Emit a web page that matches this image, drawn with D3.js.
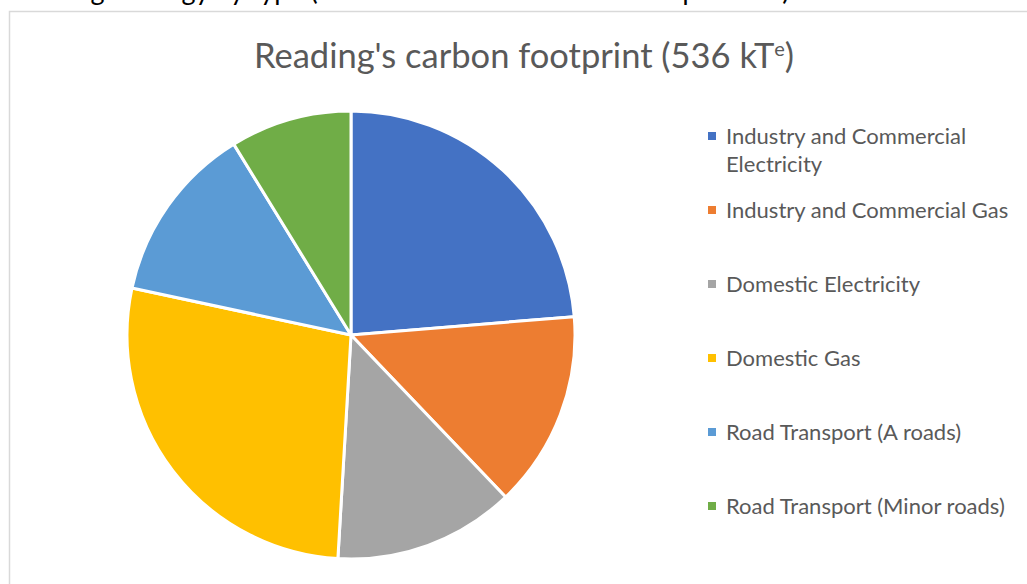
<!DOCTYPE html>
<meta charset="utf-8">
<style>
    body {
        margin: 0;
        background: #fff;
        overflow: hidden;
    }
    text {
        font-family: Lato, "Open Sans", sans-serif;
    }
</style>
<body>
<script src="https://cdn.jsdelivr.net/npm/d3@7"></script>
<script>
    // carbon footprint by source, kT CO2e
    var sources = ["Industry and Commercial Electricity", "Industry and Commercial Gas",
        "Domestic Electricity", "Domestic Gas", "Road Transport (A roads)",
        "Road Transport (Minor roads)"];
    var values = [127, 76, 70, 147, 69, 47];
    var colours = ["#4472C4", "#ED7D31", "#A5A5A5", "#FFC000", "#5B9BD5", "#70AD47"];
    // legend lines (first entry wraps onto two lines)
    var legendLines = [["Industry and Commercial", "Electricity"], ["Industry and Commercial Gas"],
        ["Domestic Electricity"], ["Domestic Gas"], ["Road Transport (A roads)"],
        ["Road Transport (Minor roads)"]];

    var width = 1027,
        height = 584;

    var svg = d3.select("body").append("svg")
        .attr("width", width)
        .attr("height", height);

    // cut-off caption line of the surrounding document
    svg.append("text")
        .attr("x", 10)
        .attr("y", 0)
        .style("font-size", "27px")
        .style("fill", "#000")
        .text("Reading's energy by type (kilotonnes of carbon dioxide equivalent)");

    // chart frame
    svg.append("rect")
        .attr("x", 9.5)
        .attr("y", 11.5)
        .attr("width", width)
        .attr("height", height)
        .style("fill", "#fff")
        .style("stroke", "#d9d9d9")
        .style("stroke-width", 1.5);

    var title = svg.append("text")
        .attr("x", 524)
        .attr("y", 68)
        .attr("text-anchor", "middle")
        .style("font-size", "34.5px")
        .style("fill", "#595959");
    title.append("tspan").text("Reading's carbon footprint (536 kT");
    title.append("tspan").attr("dy", -12).style("font-size", "20px").text("e");
    title.append("tspan").attr("dy", 12).text(")");

    var color = d3.scaleOrdinal()
        .domain(sources)
        .range(colours);

    var pie = d3.pie().sort(null)
        .value(function(d, i) {
            return values[i];
        });

    var arc = d3.arc()
        .innerRadius(0)
        .outerRadius(224);

    var g = svg.append("g")
        .attr("transform", "translate(351,335)");

    g.selectAll(".slice")
        .data(pie(sources))
        .enter().append("path")
        .attr("class", "slice")
        .attr("d", arc)
        .style("fill", function(d) {
            return color(d.data);
        })
        .style("stroke", "#fff")
        .style("stroke-width", 3)
        .style("stroke-linejoin", "round");

    var legend = svg.selectAll(".legend")
        .data(sources)
        .enter().append("g")
        .attr("class", "legend")
        .attr("transform", function(d, i) {
            return "translate(708," + (136 + i * 74) + ")";
        });

    legend.append("rect")
        .attr("x", 0)
        .attr("y", -4)
        .attr("width", 8)
        .attr("height", 8)
        .style("fill", color);

    legend.append("text")
        .attr("x", 18)
        .attr("y", 0)
        .style("font-size", "22px")
        .style("fill", "#595959")
        .selectAll("tspan")
        .data(function(d, i) {
            return legendLines[i];
        })
        .enter().append("tspan")
        .attr("x", 18)
        .attr("dy", function(d, j) {
            return j ? 28 : 8;
        })
        .text(function(d) {
            return d;
        });
</script>
</body>
